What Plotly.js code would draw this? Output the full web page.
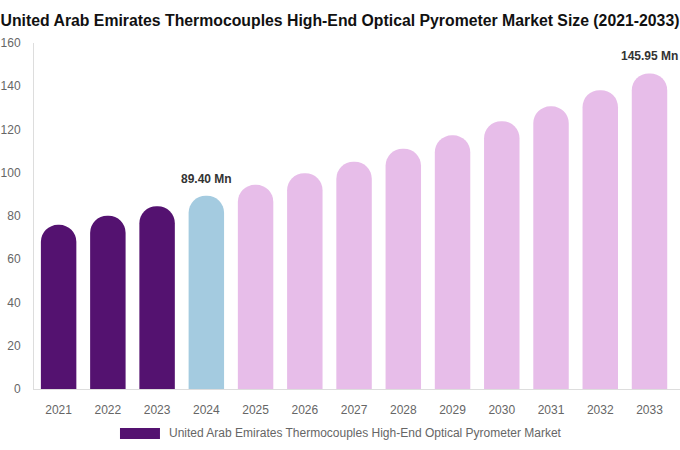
<!DOCTYPE html>
<html>
<head>
<meta charset="utf-8">
<script src="https://cdn.plot.ly/plotly-3.0.1.min.js"></script>
<style>
  html, body { margin: 0; padding: 0; background: #fff; }
  #chart { width: 680px; height: 450px; }
</style>
</head>
<body>
<div id="chart"></div>
<script>
// market size, USD Mn
const years = ['2021', '2022', '2023', '2024', '2025', '2026', '2027', '2028', '2029', '2030', '2031', '2032', '2033'];
const values = [75.9, 80.1, 84.5, 89.40, 94.4, 99.8, 105.1, 111.1, 117.3, 123.8, 130.7, 138.2, 145.95];
const barColors = ['#541270', '#541270', '#541270', '#a4cbe0',
  '#e7bde9', '#e7bde9', '#e7bde9', '#e7bde9', '#e7bde9',
  '#e7bde9', '#e7bde9', '#e7bde9', '#e7bde9'];
const labelled = ['2024', '2033'];
const seriesName = 'United Arab Emirates Thermocouples High-End Optical Pyrometer Market';

const trace = {
  x: years,
  y: values,
  type: 'bar',
  name: seriesName,
  marker: {
    color: barColors,
    cornerradius: '50%',
  },
  hoverinfo: 'x+y',
  showlegend: false,
};

// annotations on a category axis take the category index
const notes = years
  .map((yr, i) => ({ yr, i, v: values[i] }))
  .filter((d) => labelled.includes(d.yr))
  .map((d) => ({
    x: d.i,
    y: d.v,
    text: `${d.v.toFixed(2)} Mn`,
    showarrow: false,
    yanchor: 'bottom',
    yshift: 8,
    font: { family: 'Liberation Sans, Arial, sans-serif', size: 12, color: '#333', weight: 'bold' },
  }));

// legend drawn by hand so the swatch is a wide bar like the original
notes.push({
  xref: 'paper', yref: 'paper',
  x: 0.2059, y: -0.1286,
  xanchor: 'left', yanchor: 'middle',
  text: seriesName,
  showarrow: false,
  font: { size: 12, color: '#666' },
});

const layout = {
  width: 680,
  height: 450,
  margin: { l: 34, r: 0, t: 43, b: 61, pad: 0, autoexpand: false },
  paper_bgcolor: '#fff',
  plot_bgcolor: '#fff',
  bargap: 0.28,
  font: { family: 'Liberation Sans, Arial, sans-serif', size: 12, color: '#666' },
  title: {
    text: '<b>United Arab Emirates Thermocouples High-End Optical Pyrometer Market Size (2021-2033)</b>',
    font: { family: 'Liberation Sans, Arial, sans-serif', size: 15.8, color: '#111' },
    x: 0.5,
    xanchor: 'center',
    y: 0.955,
    yanchor: 'middle',
  },
  xaxis: {
    type: 'category',
    categoryorder: 'array',
    categoryarray: years,
    automargin: false,
    showgrid: false,
    showline: true,
    linecolor: '#ddd',
    ticks: '',
    ticklabelstandoff: 10,
    tickfont: { size: 12, color: '#666' },
  },
  yaxis: {
    range: [0, 160],
    dtick: 20,
    automargin: false,
    showgrid: false,
    showline: true,
    linecolor: '#ddd',
    zeroline: false,
    ticks: '',
    ticklabelstandoff: 10,
    tickfont: { size: 12, color: '#666' },
  },
  showlegend: false,
  shapes: [{
    type: 'rect',
    xref: 'paper', yref: 'paper',
    x0: 0.1331, x1: 0.1950,
    y0: -0.1445, y1: -0.1127,
    fillcolor: '#541270',
    line: { width: 0 },
  }],
  annotations: notes,
};

Plotly.newPlot('chart', [trace], layout, { displayModeBar: false, staticPlot: true });
</script>
</body>
</html>
